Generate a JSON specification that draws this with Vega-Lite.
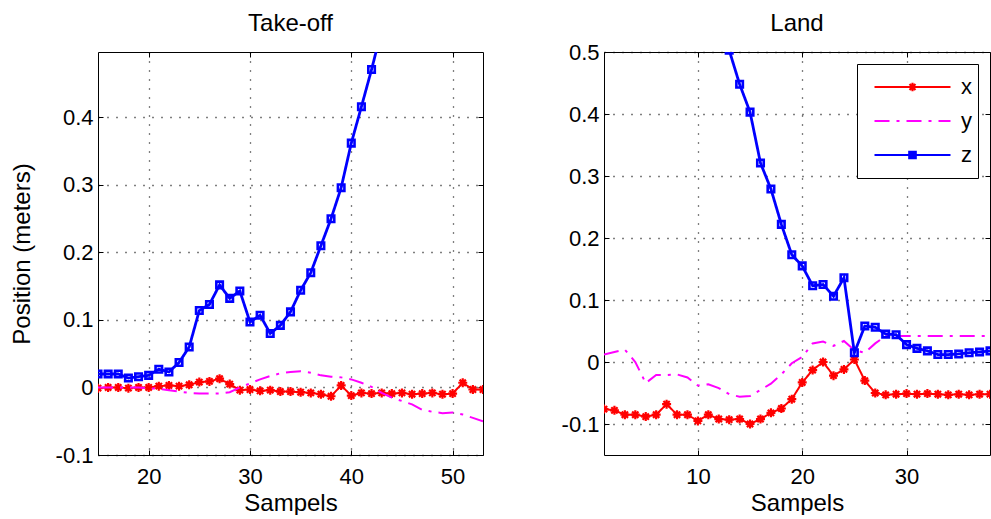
{
  "$schema": "https://vega.github.io/schema/vega-lite/v6.json",
  "background": "white",
  "padding": {"left": 10, "top": 11, "right": 0, "bottom": 0},
  "spacing": 77,
  "config": {
    "font": "Liberation Sans",
    "view": {"stroke": null},
    "axis": {
      "labelFont": "Liberation Sans", "labelFontSize": 22, "labelColor": "#000",
      "titleFont": "Liberation Sans", "titleFontSize": 24, "titleFontWeight": "normal", "titleColor": "#000",
      "domainColor": "#000", "domainWidth": 1, "tickColor": "#000", "tickSize": -5, "tickWidth": 1,
      "gridColor": "#000", "gridDash": [1, 8], "gridOpacity": 1, "gridWidth": 1.3
    },
    "axisX": {"labelPadding": 16},
    "axisY": {"labelPadding": 10},
    "title": {"font": "Liberation Sans", "fontSize": 24, "fontWeight": "normal", "color": "#000", "offset": 16}
  },
  "resolve": {"scale": {"color": "independent", "strokeDash": "independent", "x": "independent", "y": "independent"}},
  "datasets": {
    "takeoff": [
      {"s":15,"v":-0.001,"series":"x"},{"s":16,"v":0,"series":"x"},{"s":17,"v":0,"series":"x"},{"s":18,"v":-0.001,"series":"x"},{"s":19,"v":0,"series":"x"},{"s":20,"v":0,"series":"x"},{"s":21,"v":0.002,"series":"x"},{"s":22,"v":0.003,"series":"x"},{"s":23,"v":0.002,"series":"x"},{"s":24,"v":0.004,"series":"x"},{"s":25,"v":0.008,"series":"x"},{"s":26,"v":0.009,"series":"x"},{"s":27,"v":0.013,"series":"x"},{"s":28,"v":0.005,"series":"x"},{"s":29,"v":-0.004,"series":"x"},{"s":30,"v":-0.003,"series":"x"},{"s":31,"v":-0.005,"series":"x"},{"s":32,"v":-0.004,"series":"x"},{"s":33,"v":-0.006,"series":"x"},{"s":34,"v":-0.006,"series":"x"},{"s":35,"v":-0.007,"series":"x"},{"s":36,"v":-0.008,"series":"x"},{"s":37,"v":-0.01,"series":"x"},{"s":38,"v":-0.013,"series":"x"},{"s":39,"v":0.003,"series":"x"},{"s":40,"v":-0.012,"series":"x"},{"s":41,"v":-0.008,"series":"x"},{"s":42,"v":-0.009,"series":"x"},{"s":43,"v":-0.008,"series":"x"},{"s":44,"v":-0.009,"series":"x"},{"s":45,"v":-0.008,"series":"x"},{"s":46,"v":-0.01,"series":"x"},{"s":47,"v":-0.009,"series":"x"},{"s":48,"v":-0.008,"series":"x"},{"s":49,"v":-0.01,"series":"x"},{"s":50,"v":-0.009,"series":"x"},{"s":51,"v":0.007,"series":"x"},{"s":52,"v":-0.003,"series":"x"},{"s":53,"v":-0.003,"series":"x"},
      {"s":15,"v":0,"series":"y"},{"s":16,"v":0,"series":"y"},{"s":17,"v":0,"series":"y"},{"s":18,"v":0,"series":"y"},{"s":19,"v":0,"series":"y"},{"s":20,"v":-0.001,"series":"y"},{"s":21,"v":-0.002,"series":"y"},{"s":22,"v":-0.004,"series":"y"},{"s":23,"v":-0.006,"series":"y"},{"s":24,"v":-0.008,"series":"y"},{"s":25,"v":-0.009,"series":"y"},{"s":26,"v":-0.009,"series":"y"},{"s":27,"v":-0.009,"series":"y"},{"s":28,"v":-0.007,"series":"y"},{"s":29,"v":0,"series":"y"},{"s":30,"v":0.006,"series":"y"},{"s":31,"v":0.012,"series":"y"},{"s":32,"v":0.017,"series":"y"},{"s":33,"v":0.021,"series":"y"},{"s":34,"v":0.023,"series":"y"},{"s":35,"v":0.024,"series":"y"},{"s":36,"v":0.022,"series":"y"},{"s":37,"v":0.018,"series":"y"},{"s":38,"v":0.016,"series":"y"},{"s":39,"v":0.015,"series":"y"},{"s":40,"v":0.012,"series":"y"},{"s":41,"v":0.007,"series":"y"},{"s":42,"v":0.001,"series":"y"},{"s":43,"v":-0.008,"series":"y"},{"s":44,"v":-0.015,"series":"y"},{"s":45,"v":-0.02,"series":"y"},{"s":46,"v":-0.025,"series":"y"},{"s":47,"v":-0.033,"series":"y"},{"s":48,"v":-0.036,"series":"y"},{"s":49,"v":-0.038,"series":"y"},{"s":50,"v":-0.037,"series":"y"},{"s":51,"v":-0.04,"series":"y"},{"s":52,"v":-0.045,"series":"y"},{"s":53,"v":-0.05,"series":"y"},
      {"s":15,"v":0.02,"series":"z"},{"s":16,"v":0.02,"series":"z"},{"s":17,"v":0.02,"series":"z"},{"s":18,"v":0.014,"series":"z"},{"s":19,"v":0.016,"series":"z"},{"s":20,"v":0.018,"series":"z"},{"s":21,"v":0.027,"series":"z"},{"s":22,"v":0.023,"series":"z"},{"s":23,"v":0.037,"series":"z"},{"s":24,"v":0.06,"series":"z"},{"s":25,"v":0.114,"series":"z"},{"s":26,"v":0.123,"series":"z"},{"s":27,"v":0.152,"series":"z"},{"s":28,"v":0.132,"series":"z"},{"s":29,"v":0.143,"series":"z"},{"s":30,"v":0.097,"series":"z"},{"s":31,"v":0.107,"series":"z"},{"s":32,"v":0.08,"series":"z"},{"s":33,"v":0.092,"series":"z"},{"s":34,"v":0.112,"series":"z"},{"s":35,"v":0.144,"series":"z"},{"s":36,"v":0.17,"series":"z"},{"s":37,"v":0.21,"series":"z"},{"s":38,"v":0.25,"series":"z"},{"s":39,"v":0.296,"series":"z"},{"s":40,"v":0.362,"series":"z"},{"s":41,"v":0.416,"series":"z"},{"s":42,"v":0.471,"series":"z"},{"s":43,"v":0.53,"series":"z"}
    ],
    "land": [
      {"s":1,"v":-0.076,"series":"x"},{"s":2,"v":-0.078,"series":"x"},{"s":3,"v":-0.085,"series":"x"},{"s":4,"v":-0.085,"series":"x"},{"s":5,"v":-0.088,"series":"x"},{"s":6,"v":-0.085,"series":"x"},{"s":7,"v":-0.068,"series":"x"},{"s":8,"v":-0.085,"series":"x"},{"s":9,"v":-0.085,"series":"x"},{"s":10,"v":-0.095,"series":"x"},{"s":11,"v":-0.085,"series":"x"},{"s":12,"v":-0.092,"series":"x"},{"s":13,"v":-0.093,"series":"x"},{"s":14,"v":-0.092,"series":"x"},{"s":15,"v":-0.1,"series":"x"},{"s":16,"v":-0.092,"series":"x"},{"s":17,"v":-0.082,"series":"x"},{"s":18,"v":-0.075,"series":"x"},{"s":19,"v":-0.06,"series":"x"},{"s":20,"v":-0.033,"series":"x"},{"s":21,"v":-0.013,"series":"x"},{"s":22,"v":0.0,"series":"x"},{"s":23,"v":-0.022,"series":"x"},{"s":24,"v":-0.012,"series":"x"},{"s":25,"v":0.004,"series":"x"},{"s":26,"v":-0.03,"series":"x"},{"s":27,"v":-0.05,"series":"x"},{"s":28,"v":-0.053,"series":"x"},{"s":29,"v":-0.052,"series":"x"},{"s":30,"v":-0.051,"series":"x"},{"s":31,"v":-0.052,"series":"x"},{"s":32,"v":-0.051,"series":"x"},{"s":33,"v":-0.052,"series":"x"},{"s":34,"v":-0.053,"series":"x"},{"s":35,"v":-0.052,"series":"x"},{"s":36,"v":-0.053,"series":"x"},{"s":37,"v":-0.052,"series":"x"},{"s":38,"v":-0.052,"series":"x"},
      {"s":1,"v":0.012,"series":"y"},{"s":2,"v":0.016,"series":"y"},{"s":3,"v":0.02,"series":"y"},{"s":4,"v":0.0,"series":"y"},{"s":5,"v":-0.034,"series":"y"},{"s":6,"v":-0.021,"series":"y"},{"s":7,"v":-0.021,"series":"y"},{"s":8,"v":-0.02,"series":"y"},{"s":9,"v":-0.025,"series":"y"},{"s":10,"v":-0.038,"series":"y"},{"s":11,"v":-0.036,"series":"y"},{"s":12,"v":-0.042,"series":"y"},{"s":13,"v":-0.052,"series":"y"},{"s":14,"v":-0.056,"series":"y"},{"s":15,"v":-0.055,"series":"y"},{"s":16,"v":-0.045,"series":"y"},{"s":17,"v":-0.035,"series":"y"},{"s":18,"v":-0.02,"series":"y"},{"s":19,"v":-0.002,"series":"y"},{"s":20,"v":0.008,"series":"y"},{"s":21,"v":0.03,"series":"y"},{"s":22,"v":0.033,"series":"y"},{"s":23,"v":0.026,"series":"y"},{"s":24,"v":0.034,"series":"y"},{"s":25,"v":0.019,"series":"y"},{"s":26,"v":0.015,"series":"y"},{"s":27,"v":0.03,"series":"y"},{"s":28,"v":0.042,"series":"y"},{"s":29,"v":0.042,"series":"y"},{"s":30,"v":0.042,"series":"y"},{"s":31,"v":0.042,"series":"y"},{"s":32,"v":0.042,"series":"y"},{"s":33,"v":0.042,"series":"y"},{"s":34,"v":0.042,"series":"y"},{"s":35,"v":0.042,"series":"y"},{"s":36,"v":0.042,"series":"y"},{"s":37,"v":0.042,"series":"y"},{"s":38,"v":0.042,"series":"y"},
      {"s":12,"v":0.56,"series":"z"},{"s":13,"v":0.503,"series":"z"},{"s":14,"v":0.448,"series":"z"},{"s":15,"v":0.403,"series":"z"},{"s":16,"v":0.321,"series":"z"},{"s":17,"v":0.279,"series":"z"},{"s":18,"v":0.222,"series":"z"},{"s":19,"v":0.173,"series":"z"},{"s":20,"v":0.155,"series":"z"},{"s":21,"v":0.123,"series":"z"},{"s":22,"v":0.125,"series":"z"},{"s":23,"v":0.106,"series":"z"},{"s":24,"v":0.136,"series":"z"},{"s":25,"v":0.015,"series":"z"},{"s":26,"v":0.058,"series":"z"},{"s":27,"v":0.056,"series":"z"},{"s":28,"v":0.045,"series":"z"},{"s":29,"v":0.044,"series":"z"},{"s":30,"v":0.028,"series":"z"},{"s":31,"v":0.022,"series":"z"},{"s":32,"v":0.018,"series":"z"},{"s":33,"v":0.012,"series":"z"},{"s":34,"v":0.012,"series":"z"},{"s":35,"v":0.013,"series":"z"},{"s":36,"v":0.015,"series":"z"},{"s":37,"v":0.016,"series":"z"},{"s":38,"v":0.018,"series":"z"}
    ]
  },
  "hconcat": [
    {
      "width": 385, "height": 403,
      "title": {"text": "Take-off", "offset": 16},
      "data": {"name": "takeoff"},
      "layer": [
        {
          "transform": [{"filter": "datum.series === 'x'"}],
          "mark": {"type": "line", "clip": true, "strokeWidth": 2},
          "encoding": {
            "x": {"field": "s", "type": "quantitative", "scale": {"domain": [15, 53], "nice": false, "zero": false},
                  "axis": {"orient": "bottom", "values": [20, 30, 40, 50], "title": "Sampels", "grid": true, "titlePadding": 4}},
            "y": {"field": "v", "type": "quantitative", "scale": {"domain": [-0.1, 0.497], "nice": false, "zero": false},
                  "axis": {"orient": "left", "values": [-0.1, 0, 0.1, 0.2, 0.3, 0.4], "grid": true, "title": "Position (meters)", "titlePadding": 21,
                           "labelExpr": "datum.value < -0.00001 ? '-' + format(-datum.value, '.1~f') : format(abs(datum.value), '.1~f')"}},
            "color": {"field": "series", "type": "nominal", "scale": {"domain": ["x", "y", "z"], "range": ["#ff0000", "#ff00ff", "#0000ff"]}, "legend": null},
            "strokeDash": {"field": "series", "type": "nominal", "scale": {"domain": ["x", "y", "z"], "range": [[1, 0], [15, 7, 3, 7], [1, 0]]}, "legend": null}
          }
        },
        {
          "transform": [{"filter": "datum.series === 'x'"}],
          "mark": {"type": "point", "clip": true, "shape": "M-1,0L1,0M0,-1L0,1M-0.7,-0.7L0.7,0.7M-0.7,0.7L0.7,-0.7", "size": 81, "filled": false, "stroke": "#ff0000", "strokeWidth": 2.2, "opacity": 1},
          "encoding": {
            "x": {"field": "s", "type": "quantitative", "axis": null},
            "y": {"field": "v", "type": "quantitative", "axis": null}
          }
        },
        {
          "transform": [{"filter": "datum.series === 'y'"}],
          "mark": {"type": "line", "clip": true, "strokeWidth": 2},
          "encoding": {
            "x": {"field": "s", "type": "quantitative", "axis": null},
            "y": {"field": "v", "type": "quantitative", "axis": null},
            "color": {"field": "series", "type": "nominal", "legend": null},
            "strokeDash": {"field": "series", "type": "nominal", "legend": null}
          }
        },
        {
          "transform": [{"filter": "datum.series === 'z'"}],
          "mark": {"type": "line", "clip": true, "strokeWidth": 2.8},
          "encoding": {
            "x": {"field": "s", "type": "quantitative", "axis": null},
            "y": {"field": "v", "type": "quantitative", "axis": null},
            "color": {"field": "series", "type": "nominal", "legend": null},
            "strokeDash": {"field": "series", "type": "nominal", "legend": null}
          }
        },
        {
          "transform": [{"filter": "datum.series === 'z'"}],
          "mark": {"type": "point", "clip": true, "shape": "square", "size": 42, "filled": false, "stroke": "#0000ff", "strokeWidth": 2.6, "opacity": 1},
          "encoding": {
            "x": {"field": "s", "type": "quantitative", "axis": null},
            "y": {"field": "v", "type": "quantitative", "axis": null}
          }
        },
        {
          "mark": {"type": "point", "opacity": 0, "clip": true},
          "encoding": {
            "x": {"field": "s", "type": "quantitative", "axis": {"orient": "top", "values": [20, 30, 40, 50], "labels": false, "title": null, "grid": false}},
            "y": {"field": "v", "type": "quantitative", "axis": {"orient": "right", "values": [-0.1, 0, 0.1, 0.2, 0.3, 0.4], "labels": false, "title": null, "grid": false}}
          }
        }
      ]
    },
    {
      "width": 386, "height": 403,
      "title": {"text": "Land", "offset": 5},
      "data": {"name": "land"},
      "layer": [
        {
          "transform": [{"filter": "datum.series === 'x'"}],
          "mark": {"type": "line", "clip": true, "strokeWidth": 2},
          "encoding": {
            "x": {"field": "s", "type": "quantitative", "scale": {"domain": [1, 38], "nice": false, "zero": false},
                  "axis": {"orient": "bottom", "values": [10, 20, 30], "title": "Sampels", "grid": true, "titlePadding": 4}},
            "y": {"field": "v", "type": "quantitative", "scale": {"domain": [-0.15, 0.5], "nice": false, "zero": false},
                  "axis": {"orient": "left", "values": [-0.1, 0, 0.1, 0.2, 0.3, 0.4, 0.5], "grid": true, "title": null,
                           "labelExpr": "datum.value < -0.00001 ? '-' + format(-datum.value, '.1~f') : format(abs(datum.value), '.1~f')"}},
            "color": {"field": "series", "type": "nominal", "scale": {"domain": ["x", "y", "z"], "range": ["#ff0000", "#ff00ff", "#0000ff"]},
                      "legend": {"orient": "none", "legendX": 253, "legendY": 12, "title": null, "direction": "vertical",
                                 "strokeColor": "#000", "fillColor": "#fff", "padding": 6, "cornerRadius": 0,
                                 "symbolSize": 5776, "clipHeight": 34, "rowPadding": 0, "symbolOffset": 10, "labelOffset": 9,
                                 "labelFont": "Liberation Sans", "labelFontSize": 22, "labelColor": "#000", "symbolStrokeWidth": 2,
                                 "labelExpr": "datum.label + '  '",
                                 "encode": {"symbols": {"update": {
                                   "shape": {"signal": "datum.value === 'x' ? 'M-1,0L1,0M-0.11,0L0.11,0M0,-0.11L0,0.11M-0.078,-0.078L0.078,0.078M-0.078,0.078L0.078,-0.078' : datum.value === 'z' ? 'M-1,0L1,0M-0.085,-0.085L0.085,-0.085L0.085,0.085L-0.085,0.085Z' : 'M-1,0L1,0'"},
                                   "fill": {"signal": "datum.value === 'z' ? '#0000ff' : 'transparent'"},
                                   "strokeWidth": {"value": 2.2}
                                 }}}}},
            "strokeDash": {"field": "series", "type": "nominal", "scale": {"domain": ["x", "y", "z"], "range": [[1, 0], [15, 7, 3, 7], [1, 0]]},
                      "legend": {"orient": "none", "legendX": 253, "legendY": 12, "title": null, "direction": "vertical",
                                 "strokeColor": "#000", "fillColor": "#fff", "padding": 6, "cornerRadius": 0,
                                 "symbolSize": 5776, "clipHeight": 34, "rowPadding": 0, "symbolOffset": 10, "labelOffset": 9,
                                 "labelFont": "Liberation Sans", "labelFontSize": 22, "labelColor": "#000", "symbolStrokeWidth": 2.2,
                                 "labelExpr": "datum.label + '  '"}}
          }
        },
        {
          "transform": [{"filter": "datum.series === 'x'"}],
          "mark": {"type": "point", "clip": true, "shape": "M-1,0L1,0M0,-1L0,1M-0.7,-0.7L0.7,0.7M-0.7,0.7L0.7,-0.7", "size": 81, "filled": false, "stroke": "#ff0000", "strokeWidth": 2.2, "opacity": 1},
          "encoding": {
            "x": {"field": "s", "type": "quantitative", "axis": null},
            "y": {"field": "v", "type": "quantitative", "axis": null}
          }
        },
        {
          "transform": [{"filter": "datum.series === 'y'"}],
          "mark": {"type": "line", "clip": true, "strokeWidth": 2},
          "encoding": {
            "x": {"field": "s", "type": "quantitative", "axis": null},
            "y": {"field": "v", "type": "quantitative", "axis": null},
            "color": {"field": "series", "type": "nominal"},
            "strokeDash": {"field": "series", "type": "nominal"}
          }
        },
        {
          "transform": [{"filter": "datum.series === 'z'"}],
          "mark": {"type": "line", "clip": true, "strokeWidth": 2.8},
          "encoding": {
            "x": {"field": "s", "type": "quantitative", "axis": null},
            "y": {"field": "v", "type": "quantitative", "axis": null},
            "color": {"field": "series", "type": "nominal"},
            "strokeDash": {"field": "series", "type": "nominal"}
          }
        },
        {
          "transform": [{"filter": "datum.series === 'z'"}],
          "mark": {"type": "point", "clip": true, "shape": "square", "size": 42, "filled": false, "stroke": "#0000ff", "strokeWidth": 2.6, "opacity": 1},
          "encoding": {
            "x": {"field": "s", "type": "quantitative", "axis": null},
            "y": {"field": "v", "type": "quantitative", "axis": null}
          }
        },
        {
          "mark": {"type": "point", "opacity": 0, "clip": true},
          "encoding": {
            "x": {"field": "s", "type": "quantitative", "axis": {"orient": "top", "values": [10, 20, 30], "labels": false, "title": null, "grid": false}},
            "y": {"field": "v", "type": "quantitative", "axis": {"orient": "right", "values": [-0.1, 0, 0.1, 0.2, 0.3, 0.4, 0.5], "labels": false, "title": null, "grid": false}}
          }
        }
      ]
    }
  ]
}
